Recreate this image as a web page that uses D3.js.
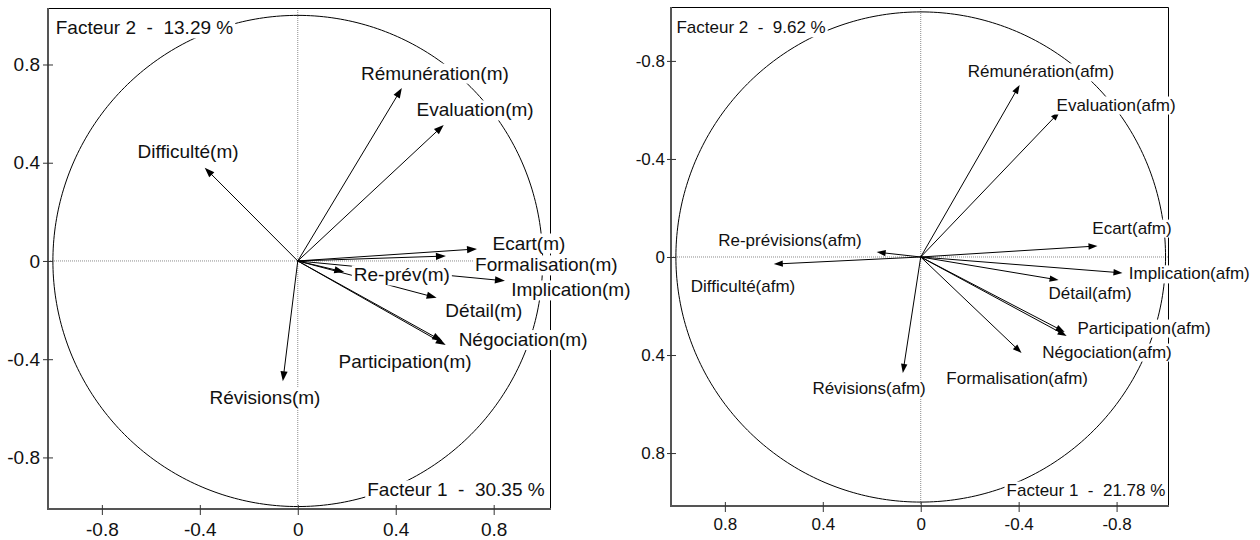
<!DOCTYPE html>
<html><head><meta charset="utf-8">
<script src="https://cdn.jsdelivr.net/npm/d3@7"></script>
<style>
body{margin:0;background:#fff;}
text{font-family:"Liberation Sans",Arial,Helvetica,sans-serif;fill:#111;white-space:pre;}
</style></head><body>
<svg id="c" width="1260" height="540"></svg>
<script>
// ---------- data ----------
const tickValues = [-0.8, -0.4, 0, 0.4, 0.8];
const tickLabels = ["-0.8", "-0.4", "0", "0.4", "0.8"];

// Left panel (m)
const leftNames = ["Difficulté(m)", "Rémunération(m)", "Evaluation(m)", "Ecart(m)", "Formalisation(m)",
  "Re-prév(m)", "Implication(m)", "Détail(m)", "Participation(m)", "Négociation(m)", "Révisions(m)"];
const leftF1 = [-0.38, 0.425, 0.596, 0.732, 0.605, 0.19, 0.846, 0.567, 0.59, 0.604, -0.061];
const leftF2 = [0.38, 0.704, 0.554, 0.049, 0.02, -0.045, -0.081, -0.15, -0.326, -0.342, -0.49];
const leftLabelX = [-0.448, 0.56, 0.724, 0.944, 1.015, 0.425, 1.115, 0.76, 0.438, 0.92, -0.134];
const leftLabelY = [0.444, 0.765, 0.615, 0.073, -0.016, -0.057, -0.118, -0.2, -0.411, -0.32, -0.554];
const leftAxisTitles = ["Facteur 1  -  30.35 %", "Facteur 2  -  13.29 %"];
const leftAxisTitleX = [0.646, -0.626];
const leftAxisTitleY = [-0.932, 0.949];

// Right panel (afm)
const rightNames = ["Rémunération(afm)", "Evaluation(afm)", "Ecart(afm)", "Re-prévisions(afm)", "Difficulté(afm)",
  "Implication(afm)", "Détail(afm)", "Participation(afm)", "Négociation(afm)", "Formalisation(afm)", "Révisions(afm)"];
const rightF1 = [-0.404, -0.567, -0.722, 0.18, 0.6, -0.824, -0.563, -0.588, -0.596, -0.412, 0.073];
const rightF2 = [-0.702, -0.592, -0.045, -0.02, 0.029, 0.065, 0.094, 0.306, 0.322, 0.392, 0.473];
const rightLabelX = [-0.491, -0.798, -0.863, 0.534, 0.726, -1.097, -0.692, -0.912, -0.761, -0.394, 0.211];
const rightLabelY = [-0.755, -0.62, -0.118, -0.069, 0.122, 0.069, 0.151, 0.29, 0.388, 0.494, 0.535];
const rightAxisTitles = ["Facteur 1  -  21.78 %", "Facteur 2  -  9.62 %"];
const rightAxisTitleX = [-0.675, 0.693];
const rightAxisTitleY = [0.951, -0.935];

// ---------- layout ----------
const panels = [
  { names: leftNames, f1: leftF1, f2: leftF2, lx: leftLabelX, ly: leftLabelY,
    titles: leftAxisTitles, tx: leftAxisTitleX, ty: leftAxisTitleY,
    left: 48, right: 550, top: 8, bottom: 509,
    xDom: [-1.02, 1.03], yDom: [-1.01, 1.03], font: 19, head: [10, 3.6],
    yTick: [5, 3], xTick: [6, 7.5] },
  { names: rightNames, f1: rightF1, f2: rightF2, lx: rightLabelX, ly: rightLabelY,
    titles: rightAxisTitles, tx: rightAxisTitleX, ty: rightAxisTitleY,
    left: 671, right: 1168, top: 7, bottom: 506,
    xDom: [1.02, -1.01], yDom: [1.016, -1.02], font: 17, head: [9, 3.2],
    yTick: [4, 2], xTick: [6, 6] }
];

const svg = d3.select("#c");

panels.forEach(p => {
  const x = d3.scaleLinear().domain(p.xDom).range([p.left, p.right]);
  const y = d3.scaleLinear().domain(p.yDom).range([p.bottom, p.top]);
  const g = svg.append("g");

  // zero lines (dotted)
  g.append("line").attr("x1", p.left).attr("x2", p.right).attr("y1", y(0)).attr("y2", y(0))
    .attr("stroke", "#8a8a8a").attr("stroke-width", 1).attr("stroke-dasharray", "1,1");
  g.append("line").attr("x1", x(0)).attr("x2", x(0)).attr("y1", p.top).attr("y2", p.bottom)
    .attr("stroke", "#8a8a8a").attr("stroke-width", 1).attr("stroke-dasharray", "1,1");

  // unit circle
  const ang = d3.range(0, 361, 1).map(a => a * Math.PI / 180);
  g.append("path")
    .attr("d", d3.line().x(a => x(Math.cos(a))).y(a => y(Math.sin(a)))(ang))
    .attr("fill", "none").attr("stroke", "#000").attr("stroke-width", 1);

  // frame top / right
  g.append("path")
    .attr("d", `M${p.left},${p.top + 0.5}H${p.right + 0.5}V${p.bottom}`)
    .attr("fill", "none").attr("stroke", "#000").attr("stroke-width", 1);

  // arrows
  const [hl, hw] = p.head;
  p.names.forEach((n, i) => {
    const x0 = x(0), y0 = y(0), x1 = x(p.f1[i]), y1 = y(p.f2[i]);
    const dx = x1 - x0, dy = y1 - y0, len = Math.hypot(dx, dy);
    const ux = dx / len, uy = dy / len;
    const bx = x1 - ux * hl, by = y1 - uy * hl;
    g.append("line").attr("x1", x0).attr("y1", y0).attr("x2", bx + ux * 2).attr("y2", by + uy * 2)
      .attr("stroke", "#000").attr("stroke-width", 1);
    g.append("path")
      .attr("d", `M${x1},${y1}L${bx - uy * hw},${by + ux * hw}L${bx + uy * hw},${by - ux * hw}Z`)
      .attr("fill", "#000");
  });

  // labels with white background
  function label(txt, cx, cy) {
    const t = g.append("text").attr("x", x(cx)).attr("y", y(cy))
      .attr("text-anchor", "middle").attr("dominant-baseline", "central")
      .style("font-size", p.font + "px").text(txt);
    const b = t.node().getBBox();
    g.insert("rect", () => t.node())
      .attr("x", b.x - 2).attr("y", b.y + 1).attr("width", b.width + 4).attr("height", b.height - 1)
      .attr("fill", "#fff");
  }
  p.names.forEach((n, i) => label(n, p.lx[i], p.ly[i]));
  p.titles.forEach((t, i) => label(t, p.tx[i], p.ty[i]));

  // axes
  const fmt = v => tickLabels[tickValues.indexOf(v)];
  const ya = g.append("g").attr("transform", `translate(${p.left},0)`)
    .call(d3.axisLeft(y).tickValues(tickValues).tickFormat(fmt)
      .tickSizeInner(p.yTick[0]).tickSizeOuter(0).tickPadding(p.yTick[1]));
  const xa = g.append("g").attr("transform", `translate(0,${p.bottom})`)
    .call(d3.axisBottom(x).tickValues(tickValues).tickFormat(fmt)
      .tickSizeInner(p.xTick[0]).tickSizeOuter(0).tickPadding(p.xTick[1]));
  [ya, xa].forEach(a => {
    a.select(".domain").attr("stroke", "#555").attr("stroke-width", 2);
    a.selectAll(".tick line").attr("stroke", "#333").attr("stroke-width", 1);
    a.selectAll(".tick text").style("font-size", p.font + "px").attr("fill", "#111")
      .style("font-family", '"Liberation Sans",Arial,sans-serif');
  });
  ya.selectAll(".tick line").attr("x2", -p.yTick[0]).attr("x1", 5);
  xa.selectAll(".tick line").attr("y1", -4);
  ya.select(".domain").attr("d", `M0,${p.bottom + 1}V${p.top}`);
  xa.select(".domain").attr("d", `M${p.left - 1},0H${p.right + 1}`);
});
</script>
</body></html>
